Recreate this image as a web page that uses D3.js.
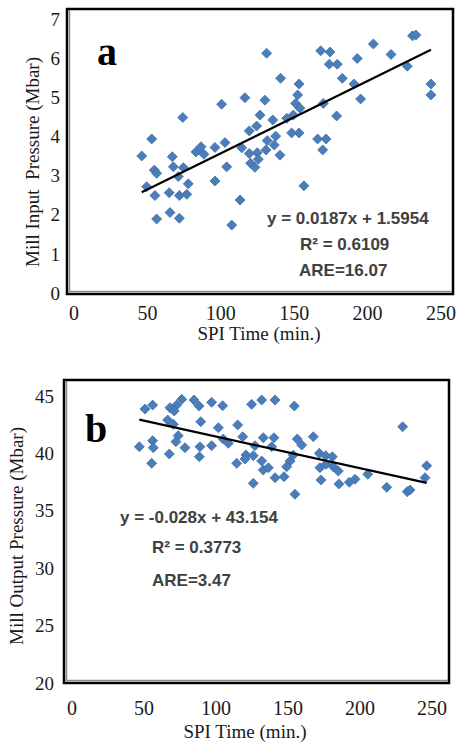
<!DOCTYPE html>
<html>
<head>
<meta charset="utf-8">
<script src="https://cdn.jsdelivr.net/npm/d3@7"></script>
<style>
  body { margin: 0; background: #fff; }
  svg { display: block; }
</style>
</head>
<body>
<svg width="458" height="742"></svg>
<script>
var svg = d3.select("svg"),
    width = +svg.attr("width"),
    height = +svg.attr("height");

// panel a : SPI time vs mill input pressure
var timeA = [48, 54.5, 51.2, 56.2, 57.7, 56.6, 57.7, 65.9, 66.4, 67.9, 68.6, 71.8, 72.5, 72.5, 74.7, 75.1, 77.3, 78.3,
  83.3, 86.6, 88.5, 95.7, 95.7, 100, 102.2, 103.3, 106.6, 112, 113.1, 115.2, 118, 118, 118.9, 121.7, 122.8, 123.2, 123.9,
  125, 128.2, 128.9, 129.3, 129.7, 133.3, 134.3, 135.2, 138, 138.4, 142.4, 145.6, 146.7, 148.2, 149.5, 150.4, 150.4, 151,
  153.6, 162.5, 164.5, 165.8, 166.2, 168, 170.1, 170.6, 174.9, 175.3, 178.6, 186.2, 188.3, 190.5, 198.8, 210.3, 220.9,
  224.3, 226.5, 236.3, 236.3];
var pressIn = [3.39, 3.81, 2.63, 3.04, 2.96, 2.41, 1.83, 2.48, 1.99, 3.37, 3.12, 2.88, 2.41, 1.85, 4.34, 3.10, 2.44, 2.70,
  3.49, 3.62, 3.43, 3.60, 2.77, 4.67, 3.72, 3.12, 1.68, 2.30, 3.59, 4.83, 4.01, 3.45, 3.21, 3.11, 4.13, 3.47, 3.31,
  4.40, 4.77, 3.54, 5.93, 3.77, 4.28, 3.66, 3.88, 3.41, 5.31, 4.32, 3.96, 4.40, 4.69, 4.90, 5.17, 3.96, 4.57,
  2.65, 3.81, 5.99, 3.54, 4.69, 3.81, 5.66, 5.96, 4.38, 5.66, 5.31, 5.17, 5.80, 4.80, 6.16, 5.90, 5.61,
  6.36, 6.38, 5.17, 4.90];

// panel b : SPI time vs mill output pressure
var timeB = [52.2, 57.2, 68.5, 72.9, 76.2, 71.3, 84.2, 87.5, 95.7, 102.9, 121.8, 128.4, 137.1, 149.7,
  67, 70.7, 88.6, 100.1, 112.7, 220.4, 73.9, 72.4, 57.2, 116, 103.3, 106.6, 129.4, 136.4, 151.6, 154.5, 162.1,
  48.5, 57.6, 78.3, 88.1, 95.7, 124, 134.9, 68.1, 87.7, 118.1, 122.9, 146.9, 149, 166, 170.2, 174.5,
  56.6, 112.1, 117.5, 128.4, 129.4, 132.7, 144.7, 166.4, 170.4, 175.1, 178.4, 197.6, 236.1, 235,
  137.1, 143, 167.1, 178.8, 185.6, 189.3, 210, 223.4, 225.2, 122.9, 150.1];
var pressOut = [42.67, 43.0, 42.78, 43.0, 43.48, 42.51, 43.42, 42.92, 43.23, 42.95, 43.06, 43.42, 43.42, 42.92,
  41.76, 41.40, 41.62, 41.12, 41.35, 41.20, 40.46, 39.96, 40.04, 40.37, 40.18, 39.83, 40.29, 40.29, 40.18, 39.68, 40.37,
  39.54, 39.46, 39.46, 39.54, 39.63, 39.63, 39.54, 38.94, 38.71, 38.85, 38.80, 38.35, 38.85, 38.99, 38.80, 38.71,
  38.16, 38.16, 38.52, 38.36, 37.61, 37.80, 37.88, 37.80, 38.08, 37.88, 37.52, 37.25, 37.96, 36.97,
  36.97, 37.05, 36.78, 36.45, 36.59, 36.84, 36.17, 35.81, 35.95, 36.50, 35.59];

var xTicks = [0, 50, 100, 150, 200, 250];
var yTicksA = [0, 1, 2, 3, 4, 5, 6, 7];
var yTicksB = [20, 25, 30, 35, 40, 45];

var fitA = {slope: 0.0187, icpt: 1.5954};
var fitB = {slope: -0.028, icpt: 43.154};
var notesA = ["y = 0.0187x + 1.5954", "R\u00B2 = 0.6109", "ARE=16.07"];
var notesB = ["y = -0.028x + 43.154", "R\u00B2 = 0.3773", "ARE=3.47"];

var serif = "'Liberation Serif', 'Times New Roman', serif";
var sans = "'Liberation Sans', Arial, sans-serif";

svg.append("rect").attr("width", width).attr("height", height).attr("fill", "#fff");

function panel(p) {
  var x = d3.scaleLinear().domain([0, 250]).range([p.left, p.right]);
  var y = d3.scaleLinear().domain(p.yDomain).range([p.bottom, p.top]);
  // the printed tick labels sit slightly inside the frame in the original figure
  var xLab = x.copy().range(p.xLabRange);
  var yLab = y.copy().range(p.yLabRange);
  var g = svg.append("g");

  // frame
  g.append("rect")
    .attr("x", p.left - 1).attr("y", p.top - 1)
    .attr("width", p.right - p.left + 2).attr("height", p.bottom - p.top + 2)
    .attr("fill", "none").attr("stroke", "#000").attr("stroke-width", 2.5);
  g.append("path")
    .attr("d", "M" + (p.left + 1.5) + "," + (p.top) + "V" + (p.bottom - 1.5) + "H" + p.right)
    .attr("fill", "none").attr("stroke", "#8a8a8a").attr("stroke-width", 1.5);

  // tick labels
  g.selectAll(".yl").data(p.yTicks).enter().append("text")
    .attr("x", p.left - p.yLabGap).attr("y", d => yLab(d)).attr("dy", "0.35em")
    .attr("text-anchor", "end")
    .style("font-family", serif).style("font-size", "19px").attr("fill", "#1a1a1a")
    .text(d => d);
  g.selectAll(".xl").data(xTicks).enter().append("text")
    .attr("x", d => xLab(d)).attr("y", p.bottom + p.xLabDy)
    .attr("text-anchor", "middle")
    .style("font-family", serif).style("font-size", "20px").attr("fill", "#1a1a1a")
    .text(d => d);

  // axis titles
  g.append("text")
    .attr("transform", "translate(" + p.yTitleX + "," + p.yTitleY + ") rotate(-90)")
    .attr("text-anchor", "middle")
    .style("font-family", serif).style("font-size", "19px").attr("fill", "#1a1a1a")
    .style("white-space", "pre")
    .text(p.yTitle);
  g.append("text")
    .attr("x", p.xTitleX).attr("y", p.bottom + p.xTitleDy)
    .attr("text-anchor", "middle")
    .style("font-family", serif).style("font-size", "19px").attr("fill", "#1a1a1a")
    .text("SPI Time (min.)");

  // points
  var diamond = d3.symbol().type(d3.symbolSquare).size(50);
  g.selectAll(".pt").data(p.xs).enter().append("path")
    .attr("d", diamond)
    .attr("transform", (d, i) => "translate(" + x(d) + "," + y(p.ys[i]) + ") rotate(45)")
    .attr("fill", "#4a7ebb").attr("stroke", "#3c6aa3").attr("stroke-width", 0.7);

  // trendline
  var ext = d3.extent(p.xs);
  g.append("line")
    .attr("x1", x(ext[0])).attr("y1", y(p.fit.icpt + p.fit.slope * ext[0]))
    .attr("x2", x(ext[1])).attr("y2", y(p.fit.icpt + p.fit.slope * ext[1]))
    .attr("stroke", "#000").attr("stroke-width", 2.2);

  // panel letter
  g.append("text")
    .attr("x", p.letterX).attr("y", p.letterY)
    .style("font-family", serif).style("font-size", "40px").style("font-weight", "bold")
    .text(p.letter);

  // regression notes
  g.selectAll(".note").data(p.notes).enter().append("text")
    .attr("x", (d, i) => p.noteX[i]).attr("y", (d, i) => p.noteY[i])
    .style("font-family", sans).style("font-size", "17px").style("font-weight", "bold")
    .attr("fill", "#404040")
    .text(d => d);
}

panel({
  left: 68, right: 452, top: 10, bottom: 293,
  yDomain: [0, 7], yTicks: yTicksA,
  xLabRange: [74, 441], yLabRange: [293, 19], yLabGap: 8, xLabDy: 27, xTitleDy: 47,
  xs: timeA, ys: pressIn, fit: fitA,
  yTitle: "Mill Input  Pressure (Mbar)", yTitleX: 39, yTitleY: 162, xTitleX: 259,
  letter: "a", letterX: 97, letterY: 65,
  notes: notesA, noteX: [267, 300, 299], noteY: [224, 250, 276]
});

panel({
  left: 65, right: 448, top: 381, bottom: 682,
  yDomain: [20, 45], yTicks: yTicksB,
  xLabRange: [72, 432], yLabRange: [683, 396], yLabGap: 11, xLabDy: 33, xTitleDy: 56,
  xs: timeB, ys: pressOut, fit: fitB,
  yTitle: "Mill Output Pressure (Mbar)", yTitleX: 23, yTitleY: 536, xTitleX: 245,
  letter: "b", letterX: 85, letterY: 442,
  notes: notesB, noteX: [120, 152, 152], noteY: [523, 553, 586]
});
</script>
</body>
</html>
